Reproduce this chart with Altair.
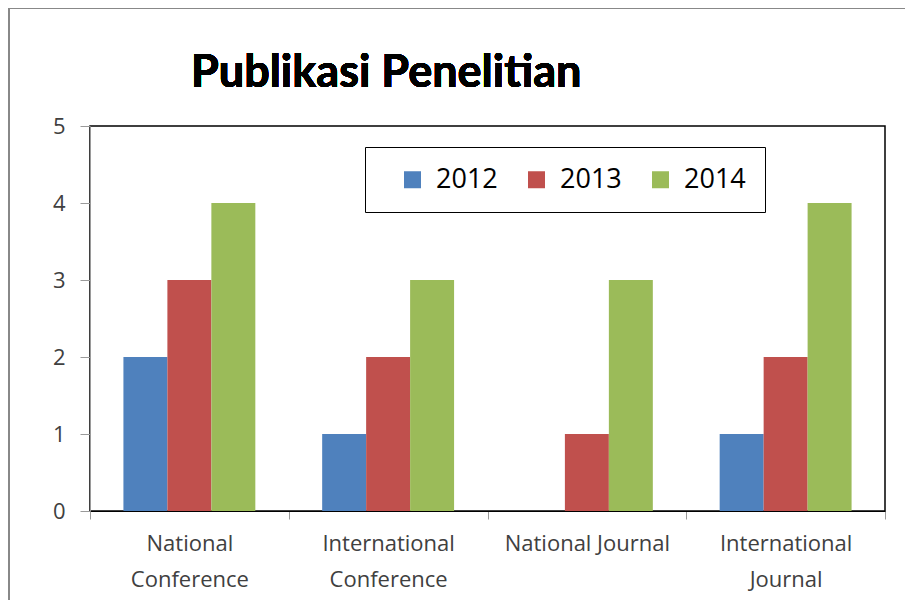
import altair as alt
import pandas as pd

categories = ["National Conference", "International Conference", "National Journal", "International Journal"]
years = ["2012", "2013", "2014"]
v2012 = [2, 1, 0, 1]
v2013 = [3, 2, 1, 2]
v2014 = [4, 3, 3, 4]
colors = ["#4F81BD", "#C0504D", "#9BBB59"]

rows = []
for y, vals in zip(years, [v2012, v2013, v2014]):
    for c, v in zip(categories, vals):
        rows.append({"category": c, "year": y, "value": v})
df = pd.DataFrame(rows)

FONT = "Open Sans"
W, H = 795, 385

bars = alt.Chart(df).mark_bar().encode(
    x=alt.X("category:N", sort=categories, title=None,
            scale=alt.Scale(paddingInner=0, paddingOuter=0),
            axis=alt.Axis(labelAngle=0, labelFont=FONT, labelFontSize=22, labelColor="#404040",
                          labelExpr="!datum.value ? '' : (datum.value == 'National Journal' ? datum.value : split(datum.value, ' '))",
                          labelLineHeight=36, labelPadding=14, tickBand="extent", tickSize=8,
                          tickColor="#9a9a9a", domainColor="#000000", labelLimit=300)),
    xOffset=alt.XOffset("year:N", sort=years,
                        scale=alt.Scale(paddingInner=0, paddingOuter=0.76)),
    y=alt.Y("value:Q", title=None,
            scale=alt.Scale(domain=[0, 5]),
            axis=alt.Axis(values=[0, 1, 2, 3, 4, 5], format="d", grid=False, labelFont=FONT,
                          labelFontSize=22, labelColor="#404040", tickSize=10, tickColor="#9a9a9a",
                          domainColor="#9a9a9a", labelPadding=15)),
    color=alt.Color("year:N", sort=years, title=None,
                    scale=alt.Scale(domain=years, range=colors),
                    legend=alt.Legend(orient="none", legendX=275, legendY=21, direction="horizontal",
                                      columns=3, symbolType="square", symbolSize=289,
                                      symbolStrokeWidth=0, labelFont=FONT, labelFontSize=27,
                                      labelColor="#000000", strokeColor="#000000", padding=19,
                                      symbolOffset=15, columnPadding=10, labelOffset=10,
                                      fillColor="white")),
)

title = alt.Chart(df).mark_text(text="Publikasi Penelitian", font="Lato", fontSize=45,
                                fontWeight="bold", align="left", baseline="alphabetic",
                                color="#000000").encode(x=alt.value(101), y=alt.value(-39))

border_left = alt.Chart(df).mark_rule(stroke="#888888", strokeWidth=2).encode(
    x=alt.value(-81), y=alt.value(-118), y2=alt.value(600))
border_top = alt.Chart(df).mark_rule(stroke="#888888", strokeWidth=2).encode(
    x=alt.value(-82), x2=alt.value(830), y=alt.value(-118))

chart = alt.layer(border_left, border_top, bars, title).properties(
    width=W, height=H,
    background="white",
    autosize=alt.AutoSizeParams(type="none"),
    padding={"left": 82, "top": 118, "right": 20, "bottom": 89},
).configure_view(stroke="#000000", strokeWidth=1.5)

chart.save("out.html", embed_options={"renderer": "svg", "actions": False})
